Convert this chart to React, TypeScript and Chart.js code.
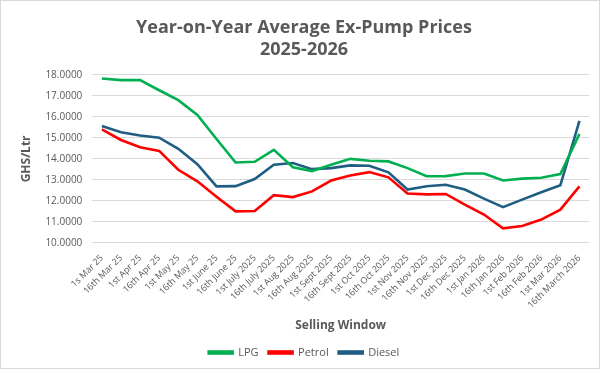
import React, { useEffect, useRef } from "react";
import { Chart, registerables } from "chart.js";

Chart.register(...registerables);

const categories = [
  "1s Mar 25", "16th Mar 25", "1st Apr 25", "16th Apr 25", "1st May 25", "16th May 25",
  "1st June 25", "16th June 25", "1st July 2025", "16th July 2025", "1st Aug 2025", "16th Aug 2025",
  "1st Sept 2025", "16th Sept 2025", "1st Oct 2025", "16th Oct 2025", "1st Nov 2025", "16th Nov 2025",
  "1st Dec 2025", "16th Dec 2025", "1st Jan 2026", "16th Jan 2026", "1st Feb 2026", "16th Feb 2026",
  "1st Mar 2026", "16th March 2026",
];

const lpg = [
  17.83, 17.75, 17.75, 17.27, 16.8, 16.09, 14.95, 13.83, 13.86, 14.43, 13.6, 13.42, 13.72,
  14.0, 13.91, 13.88, 13.56, 13.17, 13.18, 13.3, 13.3, 12.97, 13.06, 13.1, 13.28, 15.19,
];
const petrol = [
  15.41, 14.9, 14.55, 14.38, 13.48, 12.93, 12.2, 11.5, 11.52, 12.27, 12.18, 12.45, 12.97,
  13.21, 13.37, 13.12, 12.35, 12.31, 12.33, 11.82, 11.35, 10.69, 10.8, 11.11, 11.58, 12.69,
];
const diesel = [
  15.57, 15.27, 15.11, 15.01, 14.48, 13.75, 12.69, 12.7, 13.04, 13.72, 13.8, 13.51, 13.56,
  13.69, 13.67, 13.36, 12.54, 12.7, 12.77, 12.54, 12.11, 11.7, 12.06, 12.41, 12.74, 15.81,
];

const titleLines = ["Year-on-Year Average Ex-Pump Prices", "2025-2026"];
const yTitle = "GHS/Ltr";
const xTitle = "Selling Window";

const FONT = "'Open Sans', sans-serif";
const GREY = "#595959";

export default function App() {
  const ref = useRef<HTMLCanvasElement | null>(null);
  useEffect(() => {
    document.body.style.margin = "0";
    if (!ref.current) return;
    const mk = (label: string, data: number[], color: string) => ({
      label,
      data,
      borderColor: color,
      backgroundColor: color,
      borderWidth: 2.6,
      pointRadius: 0,
      tension: 0,
    });
    const chart = new Chart(ref.current, {
      type: "line",
      data: {
        labels: categories,
        datasets: [
          mk("LPG", lpg, "#00B050"),
          mk("Petrol", petrol, "#FF0000"),
          mk("Diesel", diesel, "#1F5D82"),
        ],
      },
      options: {
        animation: false,
        responsive: false,
        maintainAspectRatio: false,
        layout: { padding: { left: 18, right: 10, top: 4, bottom: 0 } },
        plugins: {
          title: {
            display: true,
            text: titleLines,
            color: GREY,
            font: { family: FONT, size: 18, weight: "bold", lineHeight: 1.22 },
            padding: { top: 12, bottom: 14 },
          },
          legend: {
            position: "bottom",
            labels: {
              color: GREY,
              font: { family: FONT, size: 11 },
              boxWidth: 24,
              boxHeight: 2,
              padding: 10,
            },
          },
          tooltip: { enabled: false },
        },
        scales: {
          x: {
            offset: true,
            grid: { display: false },
            border: { display: false },
            ticks: {
              color: GREY,
              font: { family: FONT, size: 9 },
              maxRotation: 45,
              minRotation: 45,
              autoSkip: false,
              padding: 2,
            },
            title: {
              display: true,
              text: xTitle,
              color: GREY,
              font: { family: FONT, size: 12, weight: "bold" },
              padding: { top: 6, bottom: 4 },
            },
          },
          y: {
            min: 10,
            max: 18,
            grid: { color: "#D9D9D9", lineWidth: 1, drawTicks: false },
            border: { display: false },
            ticks: {
              stepSize: 1,
              color: GREY,
              font: { family: FONT, size: 10 },
              padding: 10,
              callback: (v: any) => Number(v).toFixed(4),
            },
            title: {
              display: true,
              text: yTitle,
              color: GREY,
              font: { family: FONT, size: 12, weight: "bold" },
              padding: { top: 0, bottom: 2 },
            },
          },
        },
      },
    });
    return () => chart.destroy();
  }, []);
  return (
    <div
      style={{
        position: "fixed",
        left: 0,
        top: 0,
        width: 600,
        height: 369,
        boxSizing: "border-box",
        border: "1px solid #D9D9D9",
        background: "#fff",
      }}
    >
      <canvas ref={ref} width={598} height={367} style={{ display: "block" }} />
    </div>
  );
}
